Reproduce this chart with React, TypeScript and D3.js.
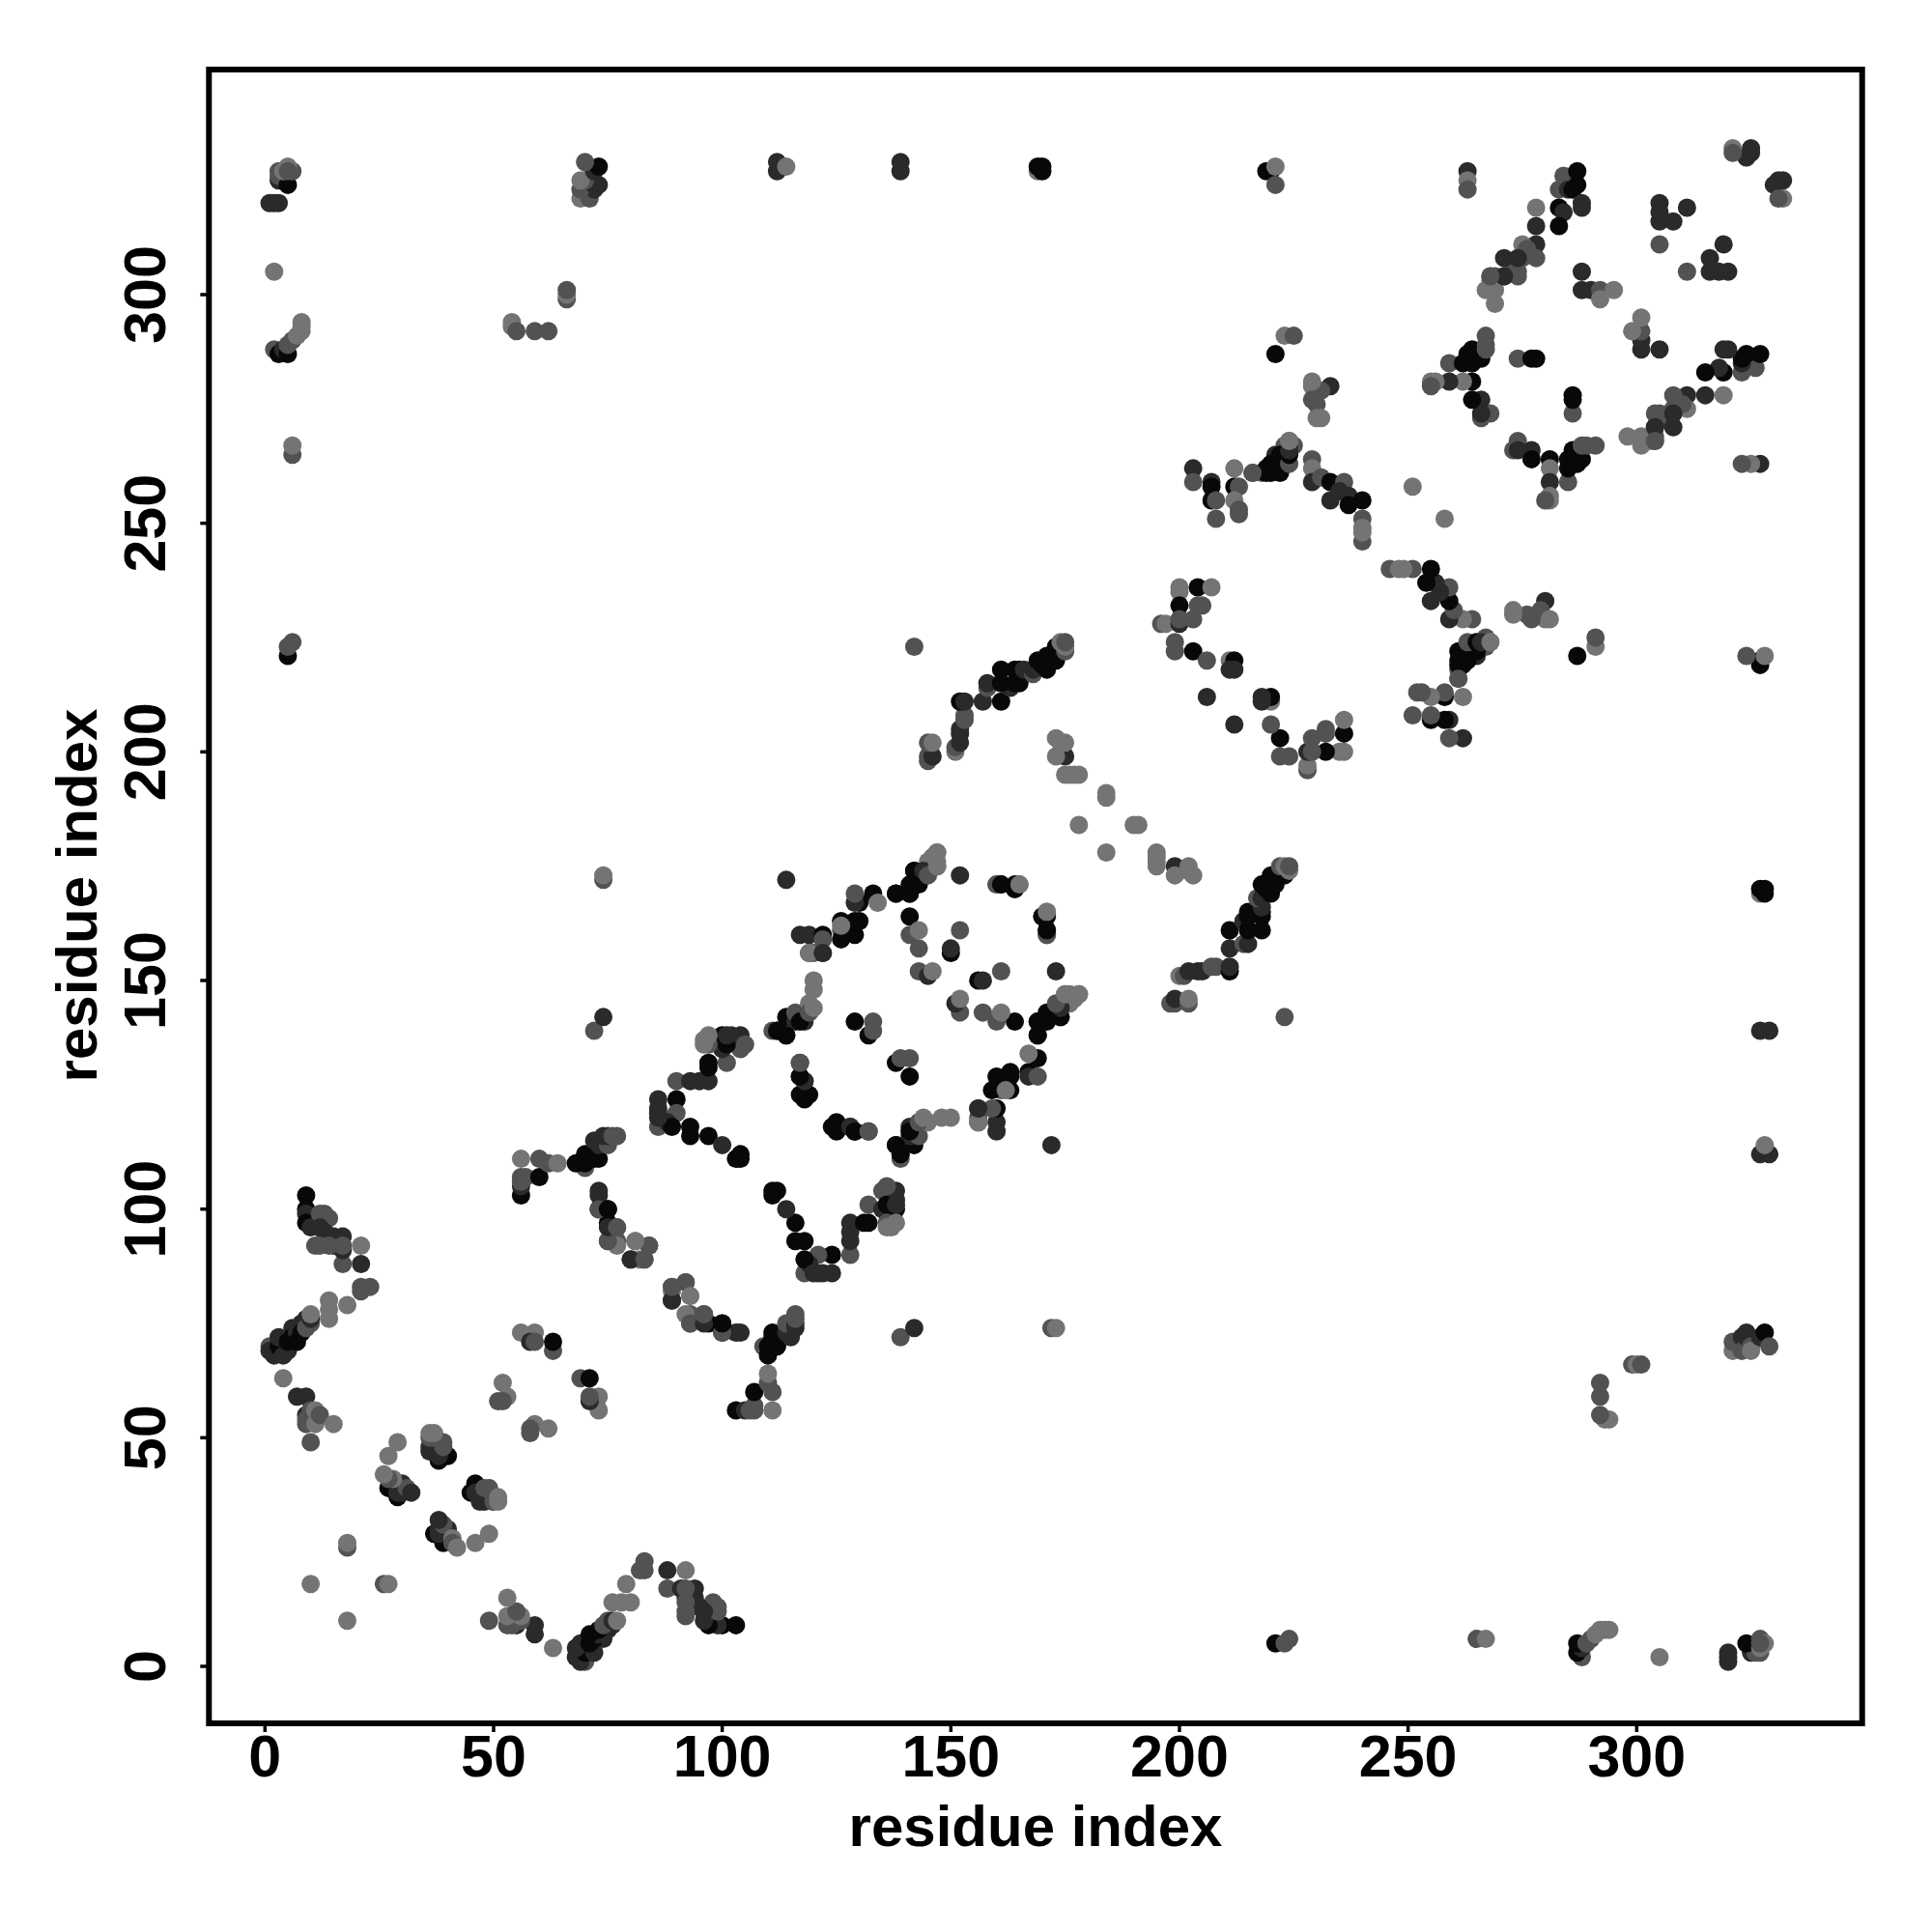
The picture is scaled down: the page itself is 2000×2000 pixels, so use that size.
import React from "react";
import * as d3 from "d3";

// shade levels (grey value of a contact)
const K = 8, D = 42, M = 82, L = 116;
type C = [number, number, number];

const xTicks = [0, 50, 100, 150, 200, 250, 300];
const yTicks = [0, 50, 100, 150, 200, 250, 300];

const nTerminal: C[] = [
  [1,70,M],[1,69,D],[2,68,D],[3,70,K],[3,72,D],[4,68,D],[5,69,D],[5,71,K],[6,74,D],[6,72,K],[7,73,D],[7,71,K],[8,75,D],[8,73,K],[9,76,D],[9,74,M],[10,75,M],[10,76,D],[10,77,L],
  [14,80,L],[14,78,L],[14,76,L],[18,79,L],[21,83,M],[21,82,M],[23,83,M],[21,88,D],[17,88,M],[21,92,L],
  [4,63,L],[7,59,D],[9,59,D],[9,55,D],[10,55,D],[9,53,M],[9,54,M],[10,56,M],[11,56,L],[11,53,L],[12,55,M],[15,53,L],[10,49,M],
  [10,18,L],[18,26,M],[18,27,L],
  [9,100,K],[9,103,K],[9,99,D],[9,97,K],[10,96,D],[12,99,M],[13,99,M],[14,98,M],[12,96,D],[13,95,D],[15,94,D],[17,94,D],[15,92,D],[17,91,D],[11,92,M],[14,92,M],[12,92,M],[17,92,M],
];
const strandOne: C[] = [
  [27,39,K],[29,37,K],[29,38,D],[30,38,D],[30,40,D],[31,39,M],[32,38,D],[28,41,L],[27,41,M],[26,42,L],[29,49,L],[27,46,L],
  [38,45,K],[40,46,K],[38,46,D],[36,47,D],[38,47,D],[36,48,D],[37,48,D],[37,49,D],[39,48,M],[39,49,M],[36,50,M],[37,50,M],[36,51,L],[37,51,L],
];
const sheetTwo: C[] = [
  [56,73,L],[59,73,L],[58,71,D],[59,71,M],[63,69,M],[63,71,K],[52,62,L],[51,58,M],[53,59,L],[52,58,M],
  [56,103,K],[56,105,D],[56,107,M],[56,106,M],[57,107,M],[60,107,K],[56,111,L],[60,111,M],[62,110,M],[64,110,L],
  [69,110,M],[70,109,M],[68,110,K],[70,110,K],[70,112,K],[71,112,K],[72,111,K],[72,113,K],[73,111,K],[72,115,D],[73,114,D],[75,114,M],[74,116,D],[75,116,D],[76,116,M],[77,116,M],
  [73,103,D],[73,104,D],[73,100,K],[75,100,K],[75,97,K],[76,95,D],[77,96,M],[75,93,M],[77,93,M],[81,93,L],[84,92,M],[80,89,M],[82,89,L],[83,89,L],
  [72,139,M],[74,142,D],[74,172,M],[74,173,L],
  [80,89,D],[83,89,M],[84,92,M],[81,93,L],[77,92,L],[75,93,M],[75,96,D],[77,96,M],[73,100,M],[75,100,K],
];
const sheetThree: C[] = [
  [90,128,M],[93,128,D],[95,128,D],[97,128,D],[97,131,K],[97,132,K],[101,132,M],
  [86,124,D],[90,124,K],[86,121,D],[90,121,M],[86,118,M],[88,119,D],[89,118,K],[93,118,K],[93,116,K],[97,116,K],[100,114,D],[103,111,K],[104,111,K],[104,112,K],
  [86,120,D],[86,122,D],
  [100,135,D],[104,135,M],[100,138,K],[102,138,D],[101,136,K],[101,138,D],[104,138,D],[105,136,M],[97,136,M],[96,137,L],[97,138,L],[96,136,L],
];
const ringFour: C[] = [
  [117,160,D],[119,160,D],[122,160,K],[126,163,K],[126,161,M],[126,159,K],[129,163,K],[129,160,K],[122,159,M],[120,156,M],[119,156,L],[122,156,D],
  [130,167,K],[129,167,D],[129,169,M],[133,169,K],[134,167,L],[138,169,K],[141,169,K],[143,172,K],[141,171,K],[142,174,K],[144,173,D],[145,176,L],[146,177,L],[147,175,L],[147,178,L],
  [141,164,K],[141,160,M],[143,161,L],[143,157,M],[143,152,M],[145,151,D],[146,152,L],[152,173,D],[152,161,M],[150,156,K],[150,157,D],
  [160,171,L],[161,171,K],[164,170,D],[165,171,L],[164,171,K],[170,164,K],[171,165,L],[160,171,M],[161,171,K],
  [112,139,K],[114,138,K],[111,139,M],[114,142,K],[116,141,D],[118,141,D],[116,143,M],[118,143,M],[119,143,D],[119,145,L],[120,148,L],[120,150,L],
  [129,141,K],[133,141,M],[132,138,K],[133,139,M],
  [117,132,D],[117,129,K],[118,128,D],[117,125,K],[119,125,K],[118,124,K],
  [114,172,D],
  [112,139,K],[114,138,K],[117,141,K],[119,143,M],[120,144,L],
  [118,125,K],[118,128,D],[117,129,K],[117,132,M],
  [130,163,K],[126,162,L],[138,169,K],[141,169,K],
  [142,174,K],[143,171,K],[144,174,D],[145,173,M],[147,175,L],[147,176,L],[147,178,L],
];
const ringFourMid: C[] = [
  [119,156,D],[122,156,D],
];
const linkerFive: C[] = [
  [178,184,L],[184,190,L],[184,191,L],
  [173,203,L],[174,202,L],[174,200,L],[175,199,D],[173,199,L],[175,202,L],[175,195,L],[176,195,L],[177,195,L],[178,195,L],
  [145,198,M],[145,199,M],[146,199,D],[145,202,M],[146,202,L],[151,200,L],[151,201,M],[152,202,D],[152,204,D],[152,205,D],[153,207,M],[153,208,M],
  [152,211,K],[153,211,D],[157,211,D],[161,211,K],[158,214,M],[158,215,D],[163,214,D],[161,215,K],[161,218,K],[164,215,K],[164,218,K],[165,215,K],[165,218,K],[166,218,D],[168,217,M],[168,218,D],[169,220,K],[170,219,K],[171,218,K],[171,220,K],[171,221,K],[173,220,K],[173,223,K],[175,222,M],[175,223,L],[174,224,L],[175,224,M],
];
const domainSix: C[] = [
  [203,262,D],[203,259,M],[207,259,D],[207,258,K],[207,255,K],[208,255,M],[208,251,M],[212,258,K],[213,258,M],[212,262,L],[212,255,L],[213,253,M],[213,252,M],
  [216,261,M],[218,261,M],[219,261,K],[219,262,K],[220,262,K],[221,263,K],[222,262,K],[222,264,D],[221,265,D],[223,265,D],[224,266,D],[223,267,M],[225,267,M],[224,268,L],
  [229,264,M],[229,262,L],[229,259,D],[231,260,M],[233,259,K],[236,259,M],[233,255,D],[235,257,D],[237,256,D],[237,254,K],[240,255,K],[240,251,M],[240,246,M],[240,248,L],[240,249,L],
  [251,258,L],
  [200,236,L],[200,235,L],[204,236,K],[207,236,L],[200,232,K],[204,232,M],[205,232,M],[196,228,M],[197,228,L],[200,228,D],[200,229,M],[203,229,M],
  [199,224,M],[199,222,M],[203,222,K],[206,220,M],[211,220,L],[212,220,K],[211,218,D],[212,218,D],[206,212,D],
  [229,280,L],[229,277,M],[230,276,M],[230,273,L],[231,273,L],[233,280,D],[231,279,M],[229,281,L],
  [216,261,M],[220,261,K],[220,263,K],[222,261,K],[222,263,K],[222,265,K],[224,263,M],[224,265,K],[224,266,D],[224,268,L],
  [221,287,K],[223,291,L],[225,291,M],
  [142,223,M],
];
const domainSeven: C[] = [
  [263,327,D],[263,325,L],[263,323,M],
  [284,326,M],[287,327,K],[287,324,K],[283,323,M],[285,323,D],[286,323,K],[288,320,D],[288,319,D],[283,319,K],[284,318,D],[283,315,K],[278,319,L],[278,315,D],[278,311,D],[278,308,M],[275,311,L],[275,308,M],[276,310,M],[273,307,M],[271,308,D],[271,304,D],[274,305,M],[268,304,L],[269,304,M],[268,303,L],[267,301,L],[269,301,L],[269,298,L],
  [305,320,D],[305,318,D],[305,316,D],[308,316,D],[311,319,D],[305,311,M],[288,305,D],[288,301,D],[290,301,D],[292,301,M],[295,301,L],[292,299,L],
  [274,308,D],[274,304,M],[271,304,D],[268,304,M],
  [268,274,M],[266,273,M],[266,274,D],[266,277,D],[264,277,K],[264,281,K],[262,281,L],[259,281,D],[256,281,L],[255,281,L],[255,280,M],[259,285,M],[262,285,K],[264,285,K],[263,287,K],[266,286,K],[264,288,K],[267,288,M],[267,289,M],[267,291,M],
  [274,286,M],[277,286,K],[278,286,K],
  [321,332,L],[325,331,D],[325,332,D],[324,330,D],[321,331,M],
];
const longRange: C[] = [
  [1,320,D],[2,320,D],[3,320,D],[3,325,D],[3,327,M],[3,326,M],[5,324,K],[6,327,M],[4,327,L],[5,328,L],[5,327,M],[2,305,L],
  [2,288,M],[3,287,K],[4,288,D],[5,287,K],[5,289,M],[6,290,M],[7,291,L],[8,292,L],[8,293,L],[8,294,L],
  [6,265,M],[6,267,L],[5,221,K],[5,223,M],[6,224,M],
  [54,293,L],[54,294,L],[55,292,M],[59,292,M],[62,292,M],[66,299,M],[66,300,L],[66,301,M],
  [69,321,L],[71,321,M],[72,323,D],[69,323,M],[72,324,D],[73,324,D],[70,325,M],[69,325,L],[72,327,D],[73,328,K],[70,329,M],
  [112,327,D],[112,329,D],[114,328,L],[139,327,D],[139,329,D],[169,327,L],[169,328,K],[170,327,K],[170,328,K],
  [219,327,K],[220,327,K],[221,328,L],[221,324,M],
];

const contactGroups = [nTerminal, strandOne, sheetTwo, sheetThree, ringFourMid, ringFour, linkerFive, domainSix, domainSeven, longRange];

const x = d3.scaleLinear().domain([0, 300]).range([274.3, 1694.3]);
const y = d3.scaleLinear().domain([0, 300]).range([1725, 305]);
const FONT = "'Liberation Sans', Arial, sans-serif";
const FRAME = { left: 216.3, right: 1927.7, top: 72, bottom: 1784 };

export default function App() {
  const points: { a: number; b: number; g: number }[] = [];
  contactGroups.forEach((grp) =>
    grp.forEach(([i, j, g]) => {
      points.push({ a: i, b: j, g });
      points.push({ a: j, b: i, g });
    })
  );
  return (
    <svg width={2000} height={2000} style={{ position: "absolute", left: 0, top: 0, background: "#fff" }}>
      {points.map((p, k) => (
        <circle key={k} cx={x(p.a)} cy={y(p.b)} r={9.5} fill={d3.rgb(p.g, p.g, p.g).formatHex()} />
      ))}
      <rect x={FRAME.left} y={FRAME.top} width={FRAME.right - FRAME.left} height={FRAME.bottom - FRAME.top} fill="none" stroke="#000" strokeWidth={6} />
      {xTicks.map((t) => (
        <line key={t} x1={x(t)} x2={x(t)} y1={FRAME.bottom} y2={FRAME.bottom + 9} stroke="#000" strokeWidth={3.5} />
      ))}
      {yTicks.map((t) => (
        <line key={t} y1={y(t)} y2={y(t)} x1={FRAME.left} x2={FRAME.left - 9} stroke="#000" strokeWidth={3.5} />
      ))}
      <g fontFamily={FONT} fontWeight="bold" fontSize={61} fill="#000" textAnchor="middle">
        {xTicks.map((t) => (
          <text key={t} x={x(t)} y={1839}>{t}</text>
        ))}
        {yTicks.map((t) => (
          <text key={t} transform={`translate(171,${y(t)}) rotate(-90)`}>{t}</text>
        ))}
      </g>
      <g fontFamily={FONT} fontWeight="bold" fontSize={60} fill="#000" textAnchor="middle">
        <text x={1072} y={1911}>residue index</text>
        <text transform={`translate(100,927) rotate(-90)`}>residue index</text>
      </g>
    </svg>
  );
}
